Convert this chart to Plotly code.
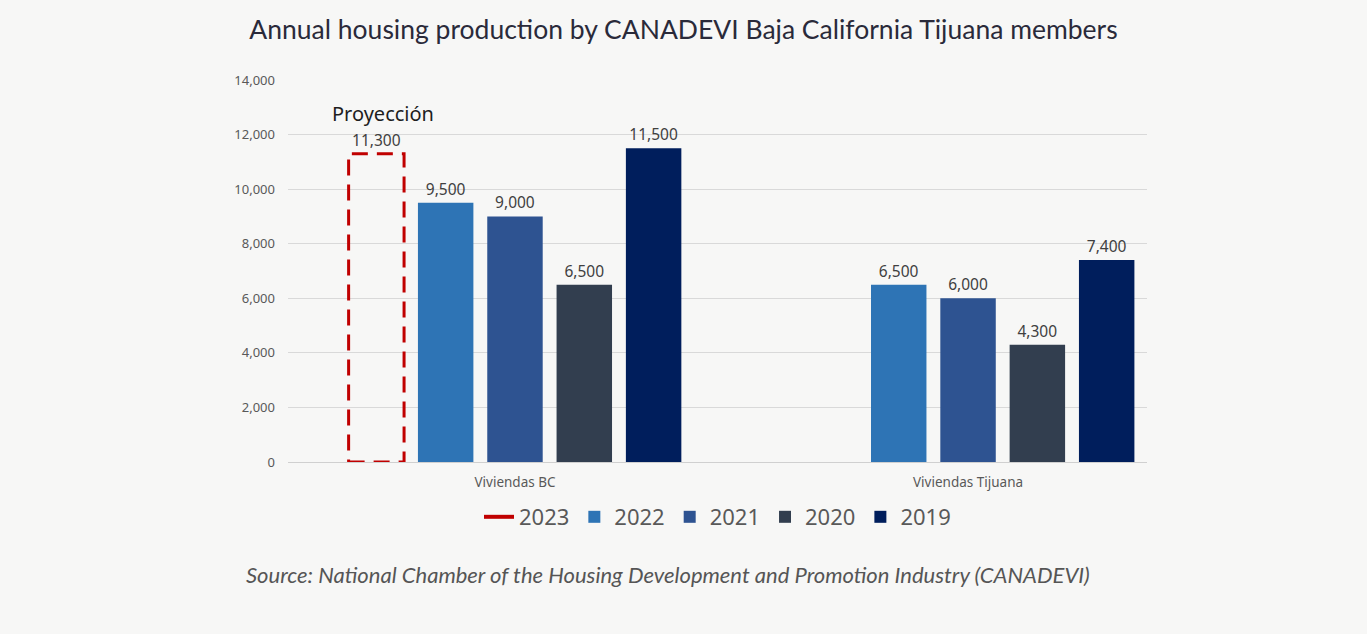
import plotly.graph_objects as go

categories = ["Viviendas BC", "Viviendas Tijuana"]
years = ["2023", "2022", "2021", "2020", "2019"]
values = {
    "2023": [11300, None],
    "2022": [9500, 6500],
    "2021": [9000, 6000],
    "2020": [6500, 4300],
    "2019": [11500, 7400],
}
colors = {
    "2022": "#2E74B5",
    "2021": "#2E5391",
    "2020": "#323E4F",
    "2019": "#001E5C",
}
y_ticks = [0, 2000, 4000, 6000, 8000, 10000, 12000, 14000]

BARGAP = 0.235
GROUPGAP = 0.2
n = len(years)
slot = (1 - BARGAP) / n
bw = slot * (1 - GROUPGAP)
xpos = list(range(len(categories)))
RED = "#C00000"
LABEL_FONT = dict(size=15.5, color="#404040", family="Noto Sans")

fig = go.Figure()
for i, yr in enumerate(years):
    vals = values[yr]
    txt = [f"{v:,}" if v is not None else "" for v in vals]
    if yr == "2023":
        fig.add_trace(go.Bar(
            name=yr, x=xpos, y=vals, text=txt, offsetgroup=str(i),
            marker=dict(color="rgba(0,0,0,0)", line=dict(width=0)),
            textposition="outside", cliponaxis=False, showlegend=False,
            textfont=LABEL_FONT,
        ))
        # legend entry for the projected year (dashed red outline)
        fig.add_trace(go.Scatter(
            name=yr, x=[None], y=[None], mode="lines",
            line=dict(color=RED, width=4),
        ))
    else:
        fig.add_trace(go.Bar(
            name=yr, x=xpos, y=vals, text=txt, offsetgroup=str(i),
            marker=dict(color=colors[yr], line=dict(width=0)),
            textposition="outside", cliponaxis=False,
            textfont=LABEL_FONT,
        ))

# dashed outline for projected 2023 bar (derived from data + group offsets)
for ci, v in enumerate(values["2023"]):
    if v is None:
        continue
    center = xpos[ci] - (1 - BARGAP) / 2 + slot * 0.5
    fig.add_shape(type="rect", xref="x", yref="y",
                  x0=center - bw / 2, x1=center + bw / 2, y0=0, y1=v,
                  line=dict(color=RED, width=3, dash="16px,9px"),
                  fillcolor="rgba(0,0,0,0)", layer="above")
    fig.add_annotation(x=center, y=v, xref="x", yref="y", yshift=40, xshift=7,
                       text="Proyección", showarrow=False,
                       font=dict(size=20, color="#1E1E1E", family="Noto Sans"))

fig.update_layout(
    width=1367, height=634,
    paper_bgcolor="#F7F7F6", plot_bgcolor="#F7F7F6",
    barmode="group", bargap=BARGAP, bargroupgap=GROUPGAP,
    margin=dict(l=288, r=220, t=80, b=172),
    title=dict(text="Annual housing production by CANADEVI Baja California Tijuana members",
               x=0.5, xref="container", xanchor="center",
               y=1 - 30 / 634, yanchor="middle",
               font=dict(size=26.5, color="#2A2A3A", family="Lato")),
    legend=dict(orientation="h", x=0.5, xanchor="center", y=-0.144, yanchor="middle",
                font=dict(size=22, color="#595959", family="Noto Sans"),
                itemwidth=30, traceorder="normal", bgcolor="rgba(0,0,0,0)"),
    font=dict(family="Noto Sans"),
    showlegend=True,
)
fig.update_xaxes(
    tickmode="array", tickvals=xpos, ticktext=categories,
    range=[-0.501, 1.395], showgrid=False, zeroline=False,
    showline=False, ticks="", ticklabelstandoff=10,
    tickfont=dict(size=13.5, color="#595959", family="Noto Sans"),
)
fig.update_yaxes(
    range=[0, 14000], tickvals=y_ticks, tickformat=",",
    showgrid=True, gridcolor="#D9D9D9", gridwidth=1,
    zeroline=True, zerolinecolor="#D0D0D0", zerolinewidth=1,
    showline=False, ticks="", ticklabelstandoff=12,
    tickfont=dict(size=13, color="#595959", family="Noto Sans"),
)
fig.add_annotation(
    text="<i>Source: National Chamber of the Housing Development and Promotion Industry (CANADEVI)</i>",
    xref="paper", yref="paper", x=(668 - 288) / 859, y=(462 - 574) / 382,
    xanchor="center", yanchor="middle", showarrow=False,
    font=dict(size=22, color="#555555", family="Lato"),
)

fig.write_html(
    "out.html",
    config={"displayModeBar": False},
    post_script="document.body.style.margin='0';document.body.style.overflow='hidden';"
                "document.body.style.background='#F7F7F6';",
)
